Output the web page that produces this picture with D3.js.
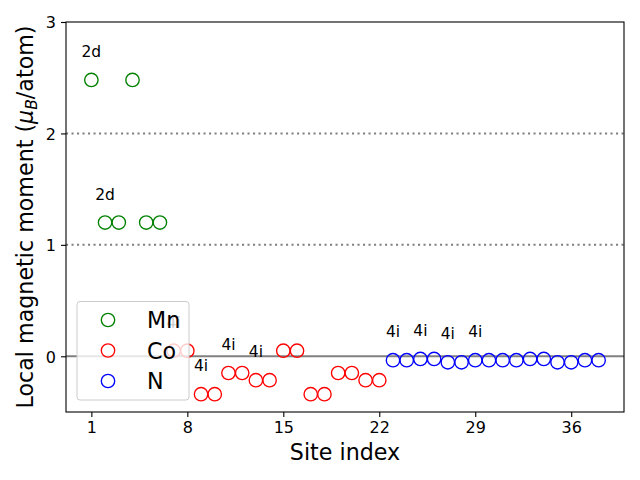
<!DOCTYPE html>
<html>
<head>
<meta charset="utf-8">
<script src="https://cdn.jsdelivr.net/npm/d3@7"></script>
<style>
  html, body { margin: 0; padding: 0; background: #fff; }
  svg { display: block; font-family: "DejaVu Sans", sans-serif; }
</style>
</head>
<body>
<svg id="chart" width="640" height="480"></svg>
<script>
// ---- data ----
const mnSites = [1, 2, 3, 4, 5, 6];
const mnMoments = [2.48, 1.2, 1.2, 2.48, 1.2, 1.2];
const coSites = [7, 8, 9, 10, 11, 12, 13, 14, 15, 16, 17, 18, 19, 20, 21, 22];
const coMoments = [0.05, 0.05, -0.34, -0.34, -0.15, -0.15, -0.215, -0.215, 0.05, 0.05, -0.34, -0.34, -0.15, -0.15, -0.215, -0.215];
const nSites = [23, 24, 25, 26, 27, 28, 29, 30, 31, 32, 33, 34, 35, 36, 37, 38];
const nMoments = [-0.035, -0.035, -0.024, -0.024, -0.054, -0.054, -0.035, -0.035, -0.035, -0.035, -0.024, -0.024, -0.054, -0.054, -0.035, -0.035];
const seriesNames = ["Mn", "Co", "N"];
const seriesColors = ["green", "red", "blue"];
const annotSites = [1, 2, 7, 9, 11, 13, 23, 25, 27, 29];
const annotLabels = ["2d", "2d", "4i", "4i", "4i", "4i", "4i", "4i", "4i", "4i"];
const xTicks = [1, 8, 15, 22, 29, 36];
const yTicks = [0, 1, 2, 3];
const refLines = [1, 2];

const series = [
  { name: seriesNames[0], color: seriesColors[0], sites: mnSites, values: mnMoments },
  { name: seriesNames[1], color: seriesColors[1], sites: coSites, values: coMoments },
  { name: seriesNames[2], color: seriesColors[2], sites: nSites, values: nMoments }
];
const allSites = [].concat(mnSites, coSites, nSites);
const allValues = [].concat(mnMoments, coMoments, nMoments);
const valueAt = s => allValues[allSites.indexOf(s)];

// ---- layout ----
const L = 66, R = 624, T = 22, B = 412;
const svg = d3.select("#chart");
const xmin = d3.min(allSites), xmax = d3.max(allSites), pad = (xmax - xmin) * 0.05;
const x = d3.scaleLinear().domain([xmin - pad, xmax + pad]).range([L, R]);
const y = d3.scaleLinear().domain([-0.5, 3]).range([B, T]);

// reference lines
svg.append("g").selectAll("line").data(refLines).join("line")
  .attr("x1", L).attr("x2", R)
  .attr("y1", d => y(d)).attr("y2", d => y(d))
  .attr("stroke", "gray").attr("stroke-width", 2)
  .attr("stroke-dasharray", "2.1,3.4");
svg.append("line")
  .attr("x1", L).attr("x2", R).attr("y1", y(0)).attr("y2", y(0))
  .attr("stroke", "gray").attr("stroke-width", 2);

// points
series.forEach(s => {
  svg.append("g").selectAll("circle").data(s.sites.map((site, i) => [site, s.values[i]]))
    .join("circle")
    .attr("cx", d => x(d[0])).attr("cy", d => y(d[1]))
    .attr("r", 6.7)
    .attr("fill", "none").attr("stroke", s.color).attr("stroke-width", 1.35);
});

// annotations
svg.append("g").selectAll("text").data(annotSites.map((s, i) => [s, annotLabels[i]]))
  .join("text")
  .attr("x", d => x(d[0]))
  .attr("y", d => y(valueAt(d[0]) + 0.25) + 5)
  .attr("text-anchor", "middle")
  .attr("font-size", 15.5)
  .attr("fill", "black")
  .text(d => d[1]);

// axes
const xAxis = d3.axisBottom(x).tickValues(xTicks).tickSize(5).tickPadding(5).tickFormat(d3.format("d"));
const yAxis = d3.axisLeft(y).tickValues(yTicks).tickSize(5).tickPadding(5).tickFormat(d3.format("d"));
const gx = svg.append("g").attr("transform", `translate(0,${B})`).call(xAxis);
const gy = svg.append("g").attr("transform", `translate(${L},0)`).call(yAxis);
[gx, gy].forEach(g => {
  g.select(".domain").remove();
  g.selectAll("line").attr("stroke", "black").attr("stroke-width", 1.1);
  g.selectAll("text").attr("font-size", 16).attr("fill", "black").attr("font-family", "DejaVu Sans");
});
gy.selectAll("text").attr("dy", "0.36em");

// frame
svg.append("rect").attr("x", L).attr("y", T).attr("width", R - L).attr("height", B - T)
  .attr("fill", "none").attr("stroke", "black").attr("stroke-width", 1.1);

// axis labels
svg.append("text").attr("x", (L + R) / 2).attr("y", 460)
  .attr("text-anchor", "middle").attr("font-size", 22.2).text("Site index");
const yl = svg.append("text")
  .attr("transform", `translate(33,${(T + B) / 2}) rotate(-90)`)
  .attr("text-anchor", "middle").attr("font-size", 22.2);
yl.append("tspan").text("Local magnetic moment (");
yl.append("tspan").attr("font-style", "italic").text("μ");
yl.append("tspan").attr("font-style", "italic").attr("font-size", 15.5).attr("dy", 4).text("B");
yl.append("tspan").attr("dy", -4).text("/atom)");

// legend
const lg = svg.append("g");
lg.append("rect").attr("x", 77).attr("y", 301.5).attr("width", 112).attr("height", 98.5)
  .attr("rx", 3).attr("fill", "white").attr("fill-opacity", 0.8)
  .attr("stroke", "#cccccc").attr("stroke-width", 1);
series.forEach((s, i) => {
  const cy = 320 + i * 30.5;
  lg.append("circle").attr("cx", 108).attr("cy", cy).attr("r", 6.7)
    .attr("fill", "none").attr("stroke", s.color).attr("stroke-width", 1.35);
  lg.append("text").attr("x", 147).attr("y", cy + 8).attr("font-size", 22.2).text(s.name);
});
</script>
</body>
</html>
